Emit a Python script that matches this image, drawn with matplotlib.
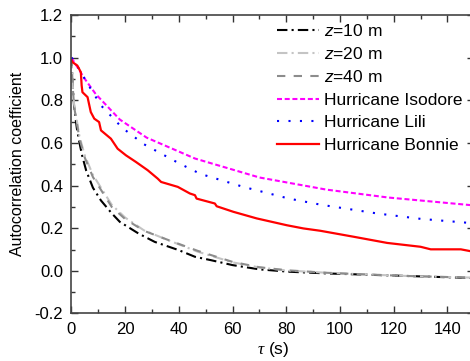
import matplotlib
matplotlib.use('Agg')
from matplotlib import pyplot as plt
from matplotlib.ticker import MultipleLocator

plt.rcParams['font.family'] = ['Liberation Sans', 'DejaVu Sans']
plt.rcParams['mathtext.fontset'] = 'custom'
plt.rcParams['mathtext.it'] = 'Liberation Sans:italic'
plt.rcParams['mathtext.rm'] = 'Liberation Serif:italic'

# autocorrelation at three heights
z10_t = [0, 0.5, 1, 2, 3, 4, 5.5, 8, 11, 15, 18, 25, 31, 40, 46, 52, 60, 70, 81, 95, 110, 125, 140, 150]
z10_r = [1.0, 0.86, 0.77, 0.67, 0.6, 0.54, 0.47, 0.39, 0.33, 0.27, 0.23, 0.175, 0.136, 0.097, 0.066, 0.05,
         0.027, 0.007, -0.004, -0.012, -0.018, -0.024, -0.03, -0.034]
z20_t = [0, 0.5, 1, 3, 5, 8, 11, 15, 20, 27, 36, 47, 60, 70, 80, 95, 110, 125, 140, 150]
z20_r = [1.0, 0.87, 0.78, 0.63, 0.54, 0.45, 0.39, 0.31, 0.25, 0.19, 0.144, 0.09, 0.04, 0.016, 0.002,
         -0.009, -0.017, -0.024, -0.029, -0.032]
z40_t = [0, 0.5, 1, 3, 5, 8, 11, 15, 20, 27, 36, 47, 60, 70, 80, 95, 110, 125, 140, 150]
z40_r = [1.0, 0.86, 0.77, 0.62, 0.53, 0.44, 0.38, 0.30, 0.243, 0.188, 0.145, 0.094, 0.042, 0.017, 0.003,
         -0.009, -0.017, -0.024, -0.029, -0.032]

# hurricane records
isodore_t = [0, 1, 5, 9, 18, 28, 46, 70, 95, 118, 149]
isodore_r = [1.0, 0.98, 0.9, 0.83, 0.71, 0.625, 0.527, 0.438, 0.381, 0.344, 0.308]
lili_t = [0, 1, 6, 11, 19, 27, 40, 48, 64, 81, 93, 114, 130, 150]
lili_r = [1.0, 0.987, 0.878, 0.776, 0.67, 0.594, 0.505, 0.455, 0.394, 0.339, 0.31, 0.269, 0.244, 0.223]
bonnie_t = [0, 0.4, 2.2, 3.5, 3.8, 4.1, 6, 7.2, 8.5, 10.3, 11, 14.7, 17.2, 20.3, 24, 28.4, 32.1, 33.4,
            39.6, 44.1, 46, 46.6, 53.4, 54.1, 60.3, 69, 80.2, 86.4, 92.7, 105.1, 117.6, 130, 133.8, 145, 150]
bonnie_r = [0.99, 0.979, 0.963, 0.932, 0.87, 0.838, 0.815, 0.745, 0.714, 0.698, 0.659, 0.62, 0.573, 0.542,
            0.511, 0.472, 0.433, 0.417, 0.394, 0.363, 0.355, 0.339, 0.316, 0.303, 0.277, 0.246, 0.214,
            0.199, 0.188, 0.16, 0.131, 0.113, 0.101, 0.101, 0.089]

fig = plt.figure(figsize=(4.70, 3.61), dpi=100)
ax = fig.add_axes([0.152, 0.1316, 0.857, 0.8267])

ax.plot(z10_t, z10_r, color='black', lw=1.5, dashes=(5, 2, 1, 2), label='$z$=10 m')
ax.plot(z20_t, z20_r, color='#c4c4c4', lw=1.5, dashes=(5, 2, 1, 2), label='$z$=20 m')
ax.plot(z40_t, z40_r, color='#8c8c8c', lw=1.5, dashes=(4, 4), label='$z$=40 m')
ax.plot(isodore_t, isodore_r, color='magenta', lw=1.5, dashes=(2.4, 1.3), label='Hurricane Isodore')
ax.plot(lili_t, lili_r, color='blue', lw=1.5, dashes=(1, 4.5), label='Hurricane Lili')
ax.plot(bonnie_t, bonnie_r, color='red', lw=1.6, label='Hurricane Bonnie')

ax.set_xlim(0, 150)
ax.set_ylim(-0.2, 1.2)
ax.xaxis.set_major_locator(MultipleLocator(20))
ax.xaxis.set_minor_locator(MultipleLocator(10))
ax.yaxis.set_major_locator(MultipleLocator(0.2))
ax.yaxis.set_minor_locator(MultipleLocator(0.1))
ax.yaxis.set_major_formatter(plt.FuncFormatter(lambda v, p: f'{v:.1f}'))
ax.tick_params(which='both', direction='in', top=True, right=True, labelsize=12, color='#333333')
ax.tick_params(which='major', length=5, width=1, pad=6)
ax.tick_params(which='minor', length=3, width=1)
for s in ax.spines.values():
    s.set_linewidth(1.2)
    s.set_color('#444444')

ax.set_xlabel(r'$\mathrm{\tau}$ (s)', fontsize=12.5, labelpad=2)
ax.set_ylabel('Autocorrelation coefficient', fontsize=11.5, labelpad=7)

ax.legend(loc='upper right', frameon=False, fontsize=12.5, handlelength=2.4,
          handletextpad=0.3, labelspacing=0.42, borderaxespad=0.05, bbox_to_anchor=(0.99, 1.0))

fig.savefig('out.png', dpi=100)
